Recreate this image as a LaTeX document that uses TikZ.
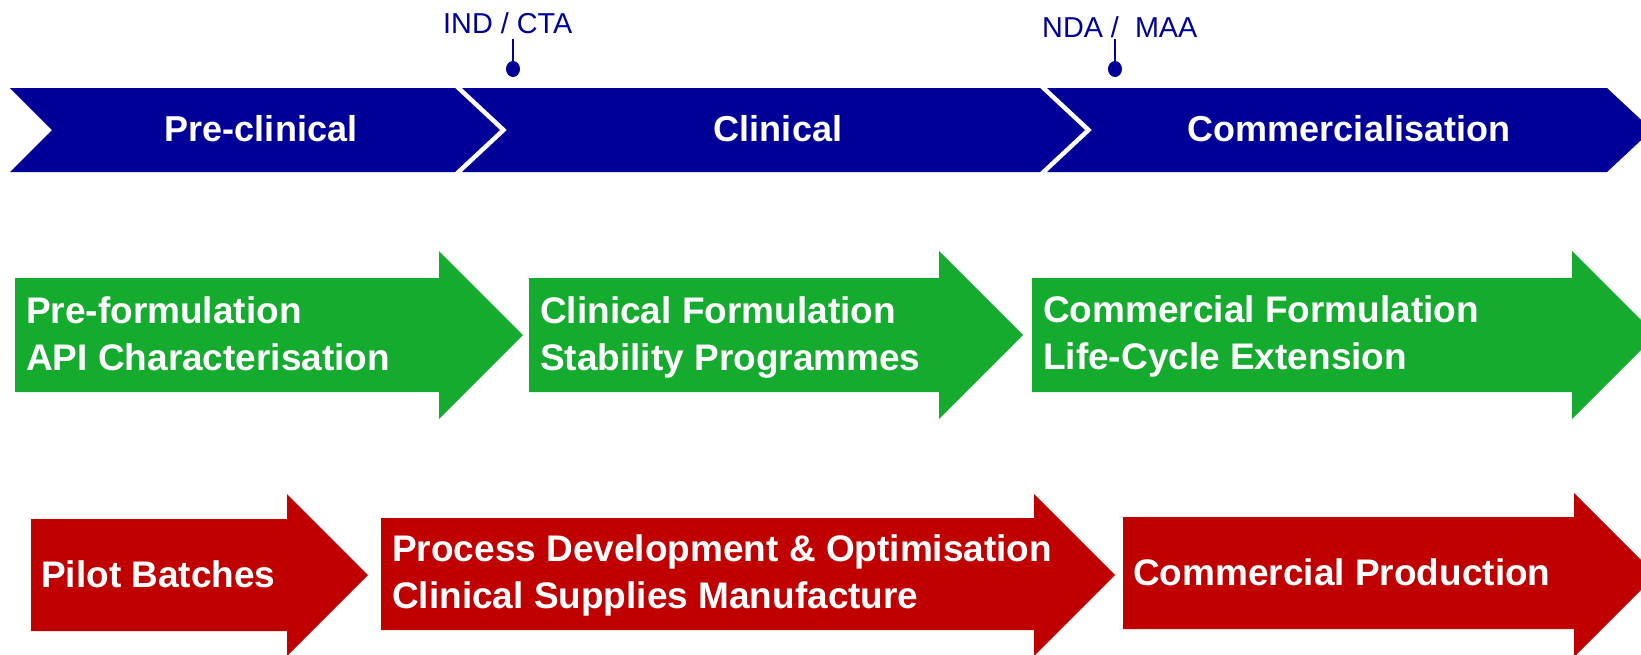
\documentclass[tikz,border=0pt]{standalone}
\usepackage{fontspec}
\setmainfont{Liberation Sans}
\definecolor{phaseblue}{RGB}{0,0,153}
\definecolor{formgreen}{RGB}{20,171,46}
\definecolor{procred}{RGB}{192,0,0}
\tikzset{
  chevron/.style={fill=phaseblue, draw=none},
  greenarrow/.style={fill=formgreen, draw=none},
  redarrow/.style={fill=procred, draw=none},
  phasetext/.style={text=white, font=\bfseries\fontsize{36}{44}\selectfont, inner sep=0pt, anchor=base},
  boxtext/.style={text=white, font=\bfseries\fontsize{37}{46.5}\selectfont, inner sep=0pt, anchor=base west, align=left},
  milestone/.style={text=phaseblue, font=\fontsize{28.8}{34}\selectfont, inner sep=0pt, anchor=base west},
  stem/.style={draw=phaseblue, line width=2.2pt},
  stemdot/.style={fill=phaseblue}
}
\begin{document}
\begin{tikzpicture}[x=1pt,y=-1pt]
\useasboundingbox (0,0) rectangle (1641,654);
\clip (0,0) rectangle (1641,654);
% phase chevrons
\path[chevron] (10,88) -- (455,88) -- (500,130) -- (455,172) -- (10,172) -- (52,130) -- cycle;
\path[chevron] (462,88) -- (1040,88) -- (1085,130) -- (1040,172) -- (462,172) -- (507,130) -- cycle;
\path[chevron] (1047,88) -- (1607,88) -- (1652,130) -- (1607,172) -- (1047,172) -- (1092,130) -- cycle;
\node[phasetext] (pre) at (261,141) {Pre-clinical};
\node[phasetext] (clin) at (778,141) {Clinical};
\node[phasetext] (comm) at (1349,141) {Commercialisation};
% milestones
\node[milestone] (ind) at (443,33) {IND / CTA};
\coordinate (inddot) at (513,69);
\draw[stem] (inddot) -- (513,39);
\fill[stemdot] (inddot) ellipse (7 and 8);
\node[milestone] (nda) at (1042,37) {NDA /\ \ MAA};
\coordinate (ndadot) at (1115,69);
\draw[stem] (ndadot) -- (1115,39);
\fill[stemdot] (ndadot) ellipse (7 and 8);
% green arrows
\path[greenarrow] (15,278) -- (439,278) -- (439,251) -- (523,335) -- (439,419) -- (439,392) -- (15,392) -- cycle;
\path[greenarrow] (529,278) -- (939,278) -- (939,251) -- (1023,335) -- (939,419) -- (939,392) -- (529,392) -- cycle;
\path[greenarrow] (1032,278) -- (1572,278) -- (1572,251) -- (1656,335) -- (1572,419) -- (1572,392) -- (1032,392) -- cycle;
\node[boxtext] (g1) at (26,370) {Pre-formulation\\API Characterisation};
\node[boxtext] (g2) at (540,370) {Clinical Formulation\\Stability Programmes};
\node[boxtext] (g3) at (1043,369) {Commercial Formulation\\Life-Cycle Extension};
% red arrows
\path[redarrow] (31,519) -- (287,519) -- (287,494) -- (368,575) -- (287,656) -- (287,631) -- (31,631) -- cycle;
\path[redarrow] (381,518) -- (1034,518) -- (1034,494) -- (1115,575) -- (1034,656) -- (1034,630) -- (381,630) -- cycle;
\path[redarrow] (1123,517) -- (1574,517) -- (1574,493) -- (1656,575) -- (1574,657) -- (1574,629) -- (1123,629) -- cycle;
\node[boxtext] (r1) at (41,587) {Pilot Batches};
\node[boxtext] (r2) at (392,608) {Process Development \& Optimisation\\Clinical Supplies Manufacture};
\node[boxtext] (r3) at (1133,585) {Commercial Production};
\end{tikzpicture}
\end{document}
